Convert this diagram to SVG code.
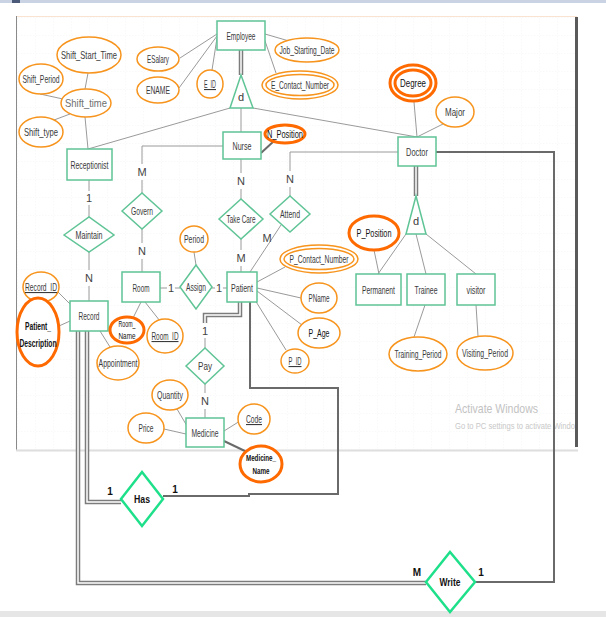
<svg xmlns="http://www.w3.org/2000/svg" width="606" height="617" viewBox="0 0 606 617">
<defs>
<pattern id="grid" width="18" height="18" patternUnits="userSpaceOnUse">
<path d="M18 0 V18 M0 18 H18" fill="none" stroke="#efefef" stroke-width="0.8" stroke-dasharray="1.5 1.5"/>
</pattern>
<style>
.ent{fill:#fff;stroke:#5fc496;stroke-width:1.5}
.rel{fill:#fff;stroke:#5fc496;stroke-width:1.5}
.relb{fill:#fff;stroke:#1fe08a;stroke-width:2.5}
.att{fill:#fff;stroke:#f7941d;stroke-width:1.5}
.attk{fill:#fff;stroke:#ff6a00;stroke-width:3}
.t{font-family:"Liberation Sans",Arial,sans-serif;font-size:11px;fill:#3a3a3a;text-anchor:middle}
.tk{font-family:"Liberation Sans",Arial,sans-serif;font-size:11px;fill:#111;text-anchor:middle}
.tb{font-family:"Liberation Sans",Arial,sans-serif;font-size:10px;font-weight:bold;fill:#111;text-anchor:middle}
.card{font-family:"Liberation Sans",Arial,sans-serif;font-size:11px;fill:#444;text-anchor:middle}
.cardb{font-family:"Liberation Sans",Arial,sans-serif;font-size:10px;font-weight:bold;fill:#111;text-anchor:middle}
.c{stroke:#9a9a9a;stroke-width:1;fill:none}
.cd{stroke:#6a6a6a;stroke-width:2;fill:none}
.d1{stroke:#7c7c7c;stroke-width:4.5;fill:none}
.d2{stroke:#fff;stroke-width:1.5;fill:none}
.u{text-decoration:underline}
</style>
</defs>

<!-- window background -->
<rect x="0" y="0" width="606" height="617" fill="#fff"/>
<rect x="0" y="0" width="606" height="3" fill="#c9d3e3"/>
<rect x="12" y="0" width="8" height="3" fill="#4a5a78"/>
<rect x="16" y="16" width="561" height="434" fill="url(#grid)"/>
<line x1="16" y1="16.5" x2="577" y2="16.5" stroke="#fbe3d2" stroke-width="1"/>
<line x1="16.5" y1="16" x2="16.5" y2="450" stroke="#8a8a8a" stroke-width="1"/>
<line x1="16" y1="450.5" x2="578" y2="450.5" stroke="#dedede" stroke-width="2"/>
<rect x="0" y="611" width="606" height="6" fill="#e6e6e6"/>

<g id="watermark">
<text x="455" y="413" font-family="'Liberation Sans',Arial,sans-serif" font-size="13" fill="#c2c2c2" textLength="83" lengthAdjust="spacingAndGlyphs">Activate Windows</text>
<text x="455" y="429" font-family="'Liberation Sans',Arial,sans-serif" font-size="9" fill="#c8c8c8" textLength="120" lengthAdjust="spacingAndGlyphs">Go to PC settings to activate Windo</text>
</g>
<line x1="576.5" y1="17" x2="576.5" y2="447" stroke="#5a5a5a" stroke-width="3"/>

<g id="connectors">
<path class="c" d="M180 58 L217 34"/>
<path class="c" d="M179 88 L217 36"/>
<path class="c" d="M212 70 L217 38"/>
<path class="c" d="M265 34 L289 41"/>
<path class="c" d="M264 38 L276 73"/>
<path class="c" d="M88 73 L85 89"/>
<path class="c" d="M40 94 L63 99"/>
<path class="c" d="M54 120 L70 114"/>
<path class="c" d="M85 117 L88 149"/>
<path class="c" d="M230 108 L88 149"/>
<path class="c" d="M241 108 L241 132"/>
<path class="c" d="M253 108 L417 137"/>
<path class="c" d="M414 102 L417 137"/>
<path class="c" d="M443 124 L417 137"/>
<path class="c" d="M223 146 L142 146 L142 164 M142 180 L142 193"/>
<path class="c" d="M142 229 L142 243 M142 259 L142 272"/>
<path class="c" d="M89 180 L89 191 M89 205 L89 217"/>
<path class="c" d="M89 252 L89 270 M89 286 L89 301"/>
<path class="c" d="M241 159 L241 173 M241 189 L241 199"/>
<path class="c" d="M241 239 L241 250 M241 266 L241 272"/>
<path class="c" d="M398 152 L290 152 L290 171 M290 187 L290 196"/>
<path class="c" d="M281 225 L250 272"/>
<path class="c" d="M160 288 L167 288 M175 288 L180 288"/>
<path class="c" d="M212 288 L215 288 M223 288 L227 288"/>
<path class="c" d="M194 252 L196 265"/>
<path class="c" d="M257 282 L285 267"/>
<path class="c" d="M257 288 L301 298"/>
<path class="c" d="M257 291 L302 325"/>
<path class="c" d="M255 300 L286 350"/>
<path class="c" d="M58 292 L71 305"/>
<path class="c" d="M59 326 L70 321"/>
<path class="c" d="M133 318 L141 302"/>
<path class="c" d="M145 302 L160 321"/>
<path class="c" d="M100 331 L110 347"/>
<path class="c" d="M425 305 L414 337"/>
<path class="c" d="M476 305 L478 336"/>
<path class="c" d="M406 234 L378 274"/>
<path class="c" d="M374 250 L379 274"/>
<path class="c" d="M416 234 L426 274"/>
<path class="c" d="M426 234 L476 274"/>
<path class="c" d="M205 384 L205 393 M205 409 L205 418"/>
<path class="c" d="M205 338 L205 348"/>
<path class="c" d="M177 409 L187 426"/>
<path class="c" d="M164 429 L186 434"/>
<path class="c" d="M224 431 L240 421"/>
<path class="cd" d="M261 153 L274 141"/>
<path class="cd" d="M224 441 L247 452"/>
<path class="cd" d="M436 152 L554 152 L554 582 L475 582"/>
<path class="cd" d="M250 302 L250 388 L338 388 L338 494 L249 494 L249 496 L163 496"/>
<path class="d1" d="M241 50 L241 75"/>
<path class="d2" d="M241 50 L241 75"/>
<path class="d1" d="M416 166 L416 196"/>
<path class="d2" d="M416 166 L416 196"/>
<path class="d1" d="M240 302 L240 315 L205 315 L205 323"/>
<path class="d2" d="M240 302 L240 315 L205 315 L205 323"/>
<path class="d1" d="M87 331 L87 502 L121 502"/>
<path class="d2" d="M87 331 L87 502 L121 502"/>
<path class="d1" d="M78 331 L78 583 L426 583"/>
<path class="d2" d="M78 331 L78 583 L426 583"/>
</g>

<g id="cardinalities">
<text class="card" x="142" y="176">M</text>
<text class="card" x="142" y="255">N</text>
<text class="card" x="89" y="202">1</text>
<text class="card" x="89" y="282">N</text>
<text class="card" x="241" y="185">N</text>
<text class="card" x="241" y="262">M</text>
<text class="card" x="290" y="183">N</text>
<text class="card" x="267" y="242">M</text>
<text class="card" x="171" y="292">1</text>
<text class="card" x="219" y="292">1</text>
<text class="card" x="205" y="335">1</text>
<text class="card" x="205" y="405">N</text>
<text class="cardb" x="110" y="495">1</text>
<text class="cardb" x="175" y="493">1</text>
<text class="cardb" x="417" y="576">M</text>
<text class="cardb" x="481" y="576">1</text>
</g>

<g id="employee"><rect class="ent" x="217" y="21" width="48" height="29"/><text class="t" x="241" y="40" textLength="29" lengthAdjust="spacingAndGlyphs">Employee</text></g>
<g id="esalary"><ellipse class="att" cx="158" cy="59" rx="21" ry="12"/><text class="t" x="158" y="63" textLength="22" lengthAdjust="spacingAndGlyphs">ESalary</text></g>
<g id="ename"><ellipse class="att" cx="158" cy="90" rx="21" ry="13"/><text class="t" x="158" y="94" textLength="24" lengthAdjust="spacingAndGlyphs">ENAME</text></g>
<g id="e_id"><ellipse class="att" cx="210" cy="84" rx="13" ry="14"/><text class="t u" x="210" y="88" textLength="12" lengthAdjust="spacingAndGlyphs">E_ID</text></g>
<g id="job_starting_date"><ellipse class="att" cx="307" cy="50" rx="32" ry="12"/><text class="t" x="307" y="54" textLength="55" lengthAdjust="spacingAndGlyphs">Job_Starting_Date</text></g>
<g id="e_contact_number"><ellipse class="att" cx="300" cy="85" rx="38" ry="14"/><ellipse class="att" cx="300" cy="85" rx="34" ry="10.5"/><text class="t" x="300" y="89" textLength="58" lengthAdjust="spacingAndGlyphs">E_Contact_Number</text></g>
<g id="shift_start_time"><ellipse class="att" cx="89" cy="55" rx="32" ry="18"/><text class="t" x="89" y="59" textLength="56" lengthAdjust="spacingAndGlyphs">Shift_Start_Time</text></g>
<g id="shift_period"><ellipse class="att" cx="41" cy="79" rx="22" ry="15"/><text class="t" x="41" y="83" textLength="37" lengthAdjust="spacingAndGlyphs">Shift_Period</text></g>
<g id="shift_time"><ellipse class="att" cx="86" cy="103" rx="25" ry="14"/><text class="t" x="86" y="107" style="fill:#6e6e6e" textLength="42" lengthAdjust="spacingAndGlyphs">Shift_time</text></g>
<g id="shift_type"><ellipse class="att" cx="41" cy="132" rx="22" ry="15"/><text class="t" x="41" y="136" textLength="34" lengthAdjust="spacingAndGlyphs">Shift_type</text></g>
<g id="isa_employee"><polygon class="rel" points="241,75 230,108 253,108"/><text class="t" x="241" y="101">d</text></g>
<g id="receptionist"><rect class="ent" x="67" y="149" width="45" height="31"/><text class="t" x="89.5" y="168.5" textLength="38" lengthAdjust="spacingAndGlyphs">Receptionist</text></g>
<g id="nurse"><rect class="ent" x="223" y="132" width="38" height="27"/><text class="t" x="242" y="150" textLength="19" lengthAdjust="spacingAndGlyphs">Nurse</text></g>
<g id="doctor"><rect class="ent" x="398" y="137" width="38" height="29"/><text class="t" x="417" y="156" textLength="22" lengthAdjust="spacingAndGlyphs">Doctor</text></g>
<g id="degree"><ellipse class="attk" cx="413" cy="83" rx="23" ry="18"/><ellipse class="attk" cx="413" cy="83" rx="18" ry="13"/><text class="tk" x="413" y="87" textLength="26" lengthAdjust="spacingAndGlyphs">Degree</text></g>
<g id="major"><ellipse class="att" cx="455" cy="112" rx="19" ry="15"/><text class="t" x="455" y="116" textLength="20" lengthAdjust="spacingAndGlyphs">Major</text></g>
<g id="n_position"><ellipse class="attk" cx="285" cy="134" rx="20" ry="9"/><text class="tk" x="285" y="138" textLength="36" lengthAdjust="spacingAndGlyphs">N_Position</text></g>
<g id="maintain"><polygon class="rel" points="64,235 89,217 114,235 89,252"/><text class="t" x="89" y="239" textLength="27" lengthAdjust="spacingAndGlyphs">Maintain</text></g>
<g id="govern"><polygon class="rel" points="122,211 142,193 162,211 142,229"/><text class="t" x="142" y="215" textLength="22" lengthAdjust="spacingAndGlyphs">Govern</text></g>
<g id="take_care"><polygon class="rel" points="219,219 241,199 263,219 241,239"/><text class="t" x="241" y="223" textLength="29" lengthAdjust="spacingAndGlyphs">Take Care</text></g>
<g id="attend"><polygon class="rel" points="270,214 290,196 310,214 290,232"/><text class="t" x="290" y="218" textLength="20" lengthAdjust="spacingAndGlyphs">Attend</text></g>
<g id="record"><rect class="ent" x="70" y="301" width="38" height="30"/><text class="t" x="89" y="320" textLength="21" lengthAdjust="spacingAndGlyphs">Record</text></g>
<g id="record_id"><ellipse class="att" cx="41" cy="287" rx="18" ry="15"/><text class="t u" x="41" y="291" textLength="32" lengthAdjust="spacingAndGlyphs">Record_ID</text></g>
<g id="patient_description"><ellipse class="attk" cx="38" cy="332" rx="21" ry="34"/><text class="tb" x="38" y="330" textLength="26" lengthAdjust="spacingAndGlyphs">Patient_</text><text class="tb" x="38" y="347" textLength="37" lengthAdjust="spacingAndGlyphs">Description</text></g>
<g id="room"><rect class="ent" x="122" y="272" width="38" height="30"/><text class="t" x="141" y="291.5" textLength="17" lengthAdjust="spacingAndGlyphs">Room</text></g>
<g id="room_name"><ellipse class="attk" cx="127" cy="330" rx="17" ry="13"/><text class="tk" x="127" y="327" style="font-size:9px" textLength="17" lengthAdjust="spacingAndGlyphs">Room_</text><text class="tk" x="127" y="338.5" style="font-size:9px" textLength="17" lengthAdjust="spacingAndGlyphs">Name</text></g>
<g id="room_id"><ellipse class="att" cx="165" cy="336" rx="18" ry="17"/><text class="t u" x="165" y="340" textLength="27" lengthAdjust="spacingAndGlyphs">Room_ID</text></g>
<g id="appointment"><ellipse class="att" cx="118" cy="363" rx="21" ry="17"/><text class="t" x="118" y="367" textLength="39" lengthAdjust="spacingAndGlyphs">Appointment</text></g>
<g id="assign"><polygon class="rel" points="180,287 196,265 212,287 196,309"/><text class="t" x="196" y="291" style="font-size:10px" textLength="20" lengthAdjust="spacingAndGlyphs">Assign</text></g>
<g id="period"><ellipse class="att" cx="194" cy="239" rx="14" ry="13"/><text class="t" x="194" y="243" textLength="20" lengthAdjust="spacingAndGlyphs">Period</text></g>
<g id="patient"><rect class="ent" x="227" y="272" width="30" height="30"/><text class="t" x="242" y="291.5" textLength="22" lengthAdjust="spacingAndGlyphs">Patient</text></g>
<g id="p_contact_number"><ellipse class="att" cx="319" cy="259" rx="39" ry="14"/><ellipse class="att" cx="319" cy="259" rx="35" ry="10.5"/><text class="t" x="319" y="263" textLength="59" lengthAdjust="spacingAndGlyphs">P_Contact_Number</text></g>
<g id="pname"><ellipse class="att" cx="319" cy="298" rx="18" ry="15"/><text class="t" x="319" y="302" textLength="21" lengthAdjust="spacingAndGlyphs">PName</text></g>
<g id="p_age"><ellipse class="att" cx="319" cy="333" rx="21" ry="15"/><text class="tk" x="319" y="337" textLength="21" lengthAdjust="spacingAndGlyphs">P_Age</text></g>
<g id="p_id"><ellipse class="att" cx="295" cy="361" rx="14" ry="12"/><text class="t u" x="295" y="365" textLength="13" lengthAdjust="spacingAndGlyphs">P_ID</text></g>
<g id="pay"><polygon class="rel" points="186,366 205,348 224,366 205,384"/><text class="t" x="205" y="370" textLength="14" lengthAdjust="spacingAndGlyphs">Pay</text></g>
<g id="medicine"><rect class="ent" x="186" y="418" width="38" height="29"/><text class="t" x="205" y="437" textLength="27" lengthAdjust="spacingAndGlyphs">Medicine</text></g>
<g id="quantity"><ellipse class="att" cx="170" cy="395" rx="18" ry="15"/><text class="t" x="170" y="399" textLength="26" lengthAdjust="spacingAndGlyphs">Quantity</text></g>
<g id="price"><ellipse class="att" cx="146" cy="428" rx="18" ry="15"/><text class="t" x="146" y="432" textLength="15" lengthAdjust="spacingAndGlyphs">Price</text></g>
<g id="code"><ellipse class="att" cx="254" cy="419" rx="16" ry="15"/><text class="t u" x="254" y="423" textLength="16" lengthAdjust="spacingAndGlyphs">Code</text></g>
<g id="medicine_name"><ellipse class="attk" cx="261" cy="464" rx="21" ry="18"/><text class="tb" x="261" y="461" style="font-size:9px" textLength="30" lengthAdjust="spacingAndGlyphs">Medicine_</text><text class="tb" x="261" y="474" style="font-size:9px" textLength="17" lengthAdjust="spacingAndGlyphs">Name</text></g>
<g id="isa_doctor"><polygon class="rel" points="416,196 406,234 426,234"/><text class="t" x="416" y="224.5">d</text></g>
<g id="p_position"><ellipse class="attk" cx="374" cy="233" rx="25" ry="17"/><text class="tk" x="374" y="237" textLength="35" lengthAdjust="spacingAndGlyphs">P_Position</text></g>
<g id="permanent"><rect class="ent" x="356" y="274" width="45" height="31"/><text class="t" x="378.5" y="294" textLength="33" lengthAdjust="spacingAndGlyphs">Permanent</text></g>
<g id="trainee"><rect class="ent" x="407" y="274" width="38" height="31"/><text class="t" x="426" y="294" textLength="23" lengthAdjust="spacingAndGlyphs">Trainee</text></g>
<g id="visitor"><rect class="ent" x="457" y="274" width="38" height="31"/><text class="t" x="476" y="294" textLength="19" lengthAdjust="spacingAndGlyphs">visitor</text></g>
<g id="training_period"><ellipse class="att" cx="418" cy="354" rx="29" ry="17"/><text class="t" x="418" y="358" style="font-size:10px" textLength="47" lengthAdjust="spacingAndGlyphs">Training_Period</text></g>
<g id="visiting_period"><ellipse class="att" cx="485" cy="353" rx="28" ry="17"/><text class="t" x="485" y="357" style="font-size:10px" textLength="46" lengthAdjust="spacingAndGlyphs">Visiting_Period</text></g>
<g id="has"><polygon class="relb" points="121,499 142,472 163,499 142,526"/><text class="tb" x="142" y="503" style="font-size:11px" textLength="16" lengthAdjust="spacingAndGlyphs">Has</text></g>
<g id="write"><polygon class="relb" points="426,582 450,552 475,582 450,612"/><text class="tb" x="450" y="585.5" textLength="21" lengthAdjust="spacingAndGlyphs">Write</text></g>
</svg>
